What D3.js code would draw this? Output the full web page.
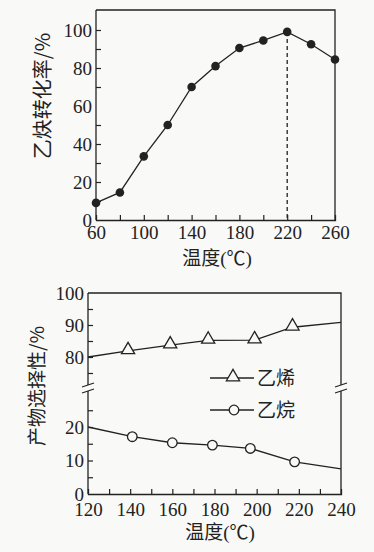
<!DOCTYPE html>
<html>
<head>
<meta charset="utf-8">
<script src="https://cdn.jsdelivr.net/npm/d3@7"></script>
<style>
  body { margin: 0; background: #f9f9f7; }
  svg { display: block; }
  text { fill: #222; font-family: "Liberation Serif", "Noto Sans CJK SC"; }
  .cjk { font-family: "Noto Sans CJK SC", sans-serif; }
</style>
</head>
<body>
<div id="chart"></div>
<script>
// top panel: acetylene conversion
var convTemps = [60, 80, 100, 120, 140, 160, 180, 200, 220, 240, 260];
var convValues = [9, 14.5, 33.5, 50, 70, 81, 90.5, 94.5, 99, 92.5, 84.5];
var convXTicks = [60, 100, 140, 180, 220, 260];
var convYTicks = [0, 20, 40, 60, 80, 100];

// bottom panel: product selectivity
var ethyleneTemps = [120, 139, 159, 177, 199, 217, 240];
var ethyleneValues = [80, 81.9, 83.7, 85.2, 85.3, 89.3, 90.8];
var ethaneTemps = [120, 141, 160, 179, 197, 218, 240];
var ethaneValues = [20, 17.1, 15.3, 14.6, 13.6, 9.6, 7.5];
var selXTicks = [120, 140, 160, 180, 200, 220, 240];
var selYTicksHigh = [80, 90, 100];
var selYTicksLow = [0, 10, 20];
var legendNames = ["乙烯", "乙烷"];

var W = 374, H = 552;
var ink = "#222";
var bg = "#f9f9f7";
var fontSize = 19;
var serif = '"Liberation Serif"';

var svg = d3.select("#chart").append("svg").attr("width", W).attr("height", H);

function styleAxis(g) {
  g.selectAll(".tick line").attr("stroke", ink).attr("stroke-width", 1.2);
  g.selectAll(".domain").attr("stroke", ink).attr("stroke-width", 1.3);
  g.selectAll(".tick text").attr("font-size", fontSize).attr("fill", ink)
    .style("font-family", serif);
}

// ---------- top panel ----------
var m1 = { left: 96, right: 335, top: 10, bottom: 220 };
var x1 = d3.scaleLinear().domain([60, 260]).range([m1.left, m1.right]);
var y1 = d3.scaleLinear().domain([0, 100]).range([m1.bottom, 30]);

var g1 = svg.append("g");

// box (top + right edges)
g1.append("path")
  .attr("d", `M${m1.left},${m1.top}H${m1.right}V${m1.bottom}`)
  .attr("fill", "none").attr("stroke", ink).attr("stroke-width", 1.3);

// y axis, ticks every 10, labels every 20
var yAxis1 = d3.axisLeft(y1)
  .tickValues(d3.range(0, 101, 10))
  .tickSize(-5).tickPadding(4)
  .tickFormat(d => convYTicks.includes(d) ? d : "");
g1.append("g").attr("transform", `translate(${m1.left},0)`).call(yAxis1)
  .call(g => g.select(".domain").attr("d", `M0,${m1.top}V${m1.bottom}`));

// x axis, ticks every 20, labels every 40
var xAxis1 = d3.axisBottom(x1)
  .tickValues(d3.range(60, 261, 20))
  .tickSize(-5).tickPadding(6)
  .tickFormat(d => convXTicks.includes(d) ? d : "");
g1.append("g").attr("transform", `translate(0,${m1.bottom})`).call(xAxis1);

styleAxis(g1);
g1.selectAll(".tick").filter(d => d === 0 || d === 60 || d === 260)
  .select("line").remove();

// dashed drop line at the peak
var peakIdx = convValues.indexOf(d3.max(convValues));
g1.append("line")
  .attr("x1", x1(convTemps[peakIdx])).attr("x2", x1(convTemps[peakIdx]))
  .attr("y1", y1(convValues[peakIdx])).attr("y2", m1.bottom)
  .attr("stroke", ink).attr("stroke-width", 1.3).attr("stroke-dasharray", "4,3");

var line1 = d3.line().x((d, i) => x1(convTemps[i])).y(d => y1(d));
g1.append("path").datum(convValues)
  .attr("d", line1).attr("fill", "none").attr("stroke", ink).attr("stroke-width", 1.3);

g1.selectAll("circle.pt").data(convValues).enter().append("circle")
  .attr("class", "pt")
  .attr("cx", (d, i) => x1(convTemps[i])).attr("cy", d => y1(d))
  .attr("r", 4.3).attr("fill", ink);

g1.append("text").attr("class", "cjk")
  .attr("transform", `translate(50,96) rotate(-90)`)
  .attr("text-anchor", "middle").attr("font-size", 20)
  .text("乙炔转化率/%");

g1.append("text")
  .attr("x", 217).attr("y", 265).attr("text-anchor", "middle").attr("font-size", fontSize)
  .text("温度(℃)");

// ---------- bottom panel ----------
var m2 = { left: 88, right: 341, top: 293, bottom: 494, breakTop: 385, breakBottom: 391 };
var x2 = d3.scaleLinear().domain([120, 240]).range([m2.left, m2.right]);
var y2High = d3.scaleLinear().domain([80, 100]).range([357, m2.top]);
var y2Low = d3.scaleLinear().domain([0, 20]).range([m2.bottom, 427]);

var g2 = svg.append("g");

// top edge + broken right edge
g2.append("path")
  .attr("d", `M${m2.left},${m2.top}H${m2.right}V${m2.breakTop}M${m2.right},${m2.breakBottom}V${m2.bottom}`)
  .attr("fill", "none").attr("stroke", ink).attr("stroke-width", 1.3);

// upper y axis segment
var yAxisHigh = d3.axisLeft(y2High)
  .tickValues([75, 80, 85, 90, 95, 100])
  .tickSize(-5).tickPadding(4)
  .tickFormat(d => selYTicksHigh.includes(d) ? d : "");
g2.append("g").attr("transform", `translate(${m2.left},0)`).call(yAxisHigh)
  .call(g => g.select(".domain").attr("d", `M0,${m2.top}V${m2.breakTop}`));

// lower y axis segment
var yAxisLow = d3.axisLeft(y2Low)
  .tickValues([0, 5, 10, 15, 20, 25])
  .tickSize(-5).tickPadding(4)
  .tickFormat(d => selYTicksLow.includes(d) ? d : "");
g2.append("g").attr("transform", `translate(${m2.left},0)`).call(yAxisLow)
  .call(g => g.select(".domain").attr("d", `M0,${m2.breakBottom}V${m2.bottom}`));

var xAxis2 = d3.axisBottom(x2)
  .tickValues(d3.range(120, 241, 10))
  .tickSize(-5).tickPadding(9)
  .tickFormat(d => selXTicks.includes(d) ? d : "");
g2.append("g").attr("transform", `translate(0,${m2.bottom})`).call(xAxis2);

styleAxis(g2);
// remove edge ticks that sit on the axis corners
g2.selectAll(".tick").filter(d => d === 0 || d === 100 || d === 120 || d === 240)
  .select("line").remove();

// break marks
[m2.left, m2.right].forEach(bx => {
  [m2.breakTop, m2.breakBottom].forEach(by => {
    g2.append("line")
      .attr("x1", bx - 6).attr("y1", by + 2).attr("x2", bx + 6).attr("y2", by - 2)
      .attr("stroke", ink).attr("stroke-width", 1.3);
  });
});

var lineHigh = d3.line().x((d, i) => x2(ethyleneTemps[i])).y(d => y2High(d));
var lineLow = d3.line().x((d, i) => x2(ethaneTemps[i])).y(d => y2Low(d));
g2.append("path").datum(ethyleneValues).attr("d", lineHigh)
  .attr("fill", "none").attr("stroke", ink).attr("stroke-width", 1.3);
g2.append("path").datum(ethaneValues).attr("d", lineLow)
  .attr("fill", "none").attr("stroke", ink).attr("stroke-width", 1.3);

var tri = d3.symbol().type(d3.symbolTriangle).size(75);

// markers only on the interior measured points
var inner = d3.range(1, ethyleneValues.length - 1);
g2.selectAll("path.tri").data(inner).enter().append("path")
  .attr("class", "tri")
  .attr("d", tri)
  .attr("transform", i => `translate(${x2(ethyleneTemps[i])},${y2High(ethyleneValues[i]) - 1})`)
  .attr("fill", bg).attr("stroke", ink).attr("stroke-width", 1.3);

g2.selectAll("circle.oc").data(inner).enter().append("circle")
  .attr("class", "oc")
  .attr("cx", i => x2(ethaneTemps[i])).attr("cy", i => y2Low(ethaneValues[i]))
  .attr("r", 4.8)
  .attr("fill", bg).attr("stroke", ink).attr("stroke-width", 1.3);

// legend
var legY = [378, 410];
legendNames.forEach((name, k) => {
  var lg = g2.append("g");
  lg.append("line").attr("x1", 210).attr("x2", 254).attr("y1", legY[k]).attr("y2", legY[k])
    .attr("stroke", ink).attr("stroke-width", 1.3);
  if (k === 0) {
    lg.append("path").attr("d", tri)
      .attr("transform", `translate(233,${legY[k] - 1})`)
      .attr("fill", bg).attr("stroke", ink).attr("stroke-width", 1.3);
  } else {
    lg.append("circle").attr("cx", 234).attr("cy", legY[k]).attr("r", 4.8)
      .attr("fill", bg).attr("stroke", ink).attr("stroke-width", 1.3);
  }
  lg.append("text").attr("class", "cjk")
    .attr("x", 257).attr("y", legY[k]).attr("dy", "0.36em")
    .attr("font-size", fontSize).text(name);
});

g2.append("text").attr("class", "cjk")
  .attr("transform", `translate(44,386) rotate(-90)`)
  .attr("text-anchor", "middle").attr("font-size", 19)
  .text("产物选择性/%");

g2.append("text")
  .attr("x", 220).attr("y", 539).attr("text-anchor", "middle").attr("font-size", fontSize)
  .text("温度(℃)");
</script>
</body>
</html>
